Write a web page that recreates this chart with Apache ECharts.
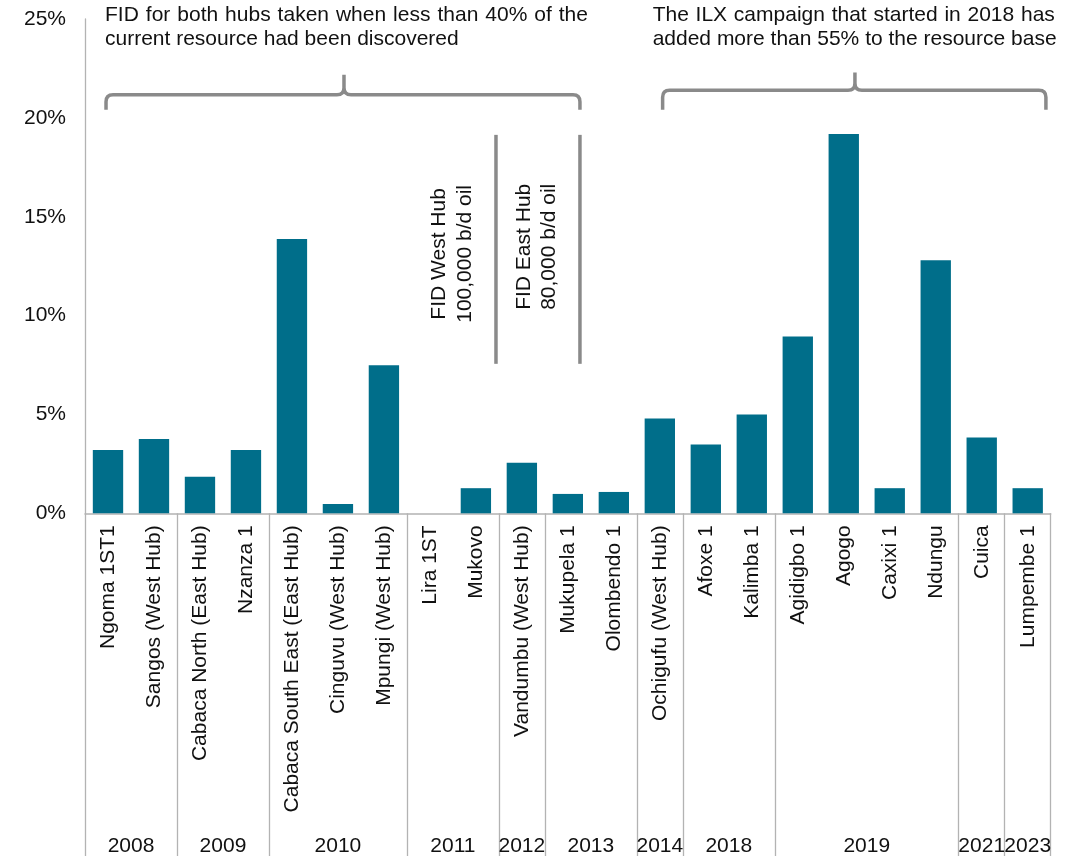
<!DOCTYPE html>
<html><head><meta charset="utf-8">
<script src="https://cdn.jsdelivr.net/npm/echarts@6/dist/echarts.min.js"></script>
<style>html,body{margin:0;padding:0;background:#fff}#c{width:1091px;height:856px}</style>
</head><body><div id="c"></div>
<script>
// ---- data ----
const categories = ['Ngoma 1ST1','Sangos (West Hub)','Cabaca North (East Hub)','Nzanza 1','Cabaca South East (East Hub)','Cinguvu (West Hub)','Mpungi (West Hub)','Lira 1ST','Mukovo','Vandumbu (West Hub)','Mukupela 1','Olombendo 1','Ochigufu (West Hub)','Afoxe 1','Kalimba 1','Agidigbo 1','Agogo','Caxixi 1','Ndungu','Cuica','Lumpembe 1'];
const values = [3.2, 3.76, 1.85, 3.2, 13.87, 0.47, 7.49, 0, 1.27, 2.56, 0.98, 1.08, 4.8, 3.48, 5.0, 8.94, 19.18, 1.27, 12.8, 3.83, 1.27];
const years = ['2008','2009','2010','2011','2012','2013','2014','2018','2019','2021','2023'];
const yearCounts = [2, 2, 3, 2, 1, 2, 1, 2, 4, 1, 1];
const yTickLabels = ['0%','5%','10%','15%','20%','25%'];

// ---- annotations (in axis units: x = category position 0..21, y = %) ----
const braces = [
  [0.457, 5.632, 10.763, 20.41, 21.17, 22.18],
  [12.561, 16.743, 20.896, 20.41, 21.40, 22.30]
];
const fidLines = [[8.937, 19.14, 7.56], [10.763, 19.14, 7.56]];
const fidTexts = ['FID West Hub\n100,000 b/d oil', 'FID East Hub\n80,000 b/d oil'];
const fidTextPos = [[7.98, 13.12], [9.828, 13.48]];
const notes = [
  ['FID for both hubs taken when less than 40% of the', 'current resource had been discovered'],
  ['The ILX campaign that started in 2018 has', 'added more than 55% to the resource base']
];
const notePos = [[0.435, 10.937, 25.17, 23.98], [12.344, 21.09, 25.17, 23.98]];

// ---- styles ----
const FONT = '"Liberation Sans", Arial, Helvetica, sans-serif';
const FS = 21;
const GRAY = '#B3B3B3';
const ANN = '#8A8A8A';
const BAR = '#006E8A';
const TXT = '#111';

// year axis helper (half-category slots)
const slotNames = [];
const labelAt = {};
const tickSlots = new Set([0]);
(function(){
  let pos = 0;
  years.forEach((y, i) => {
    labelAt[2 * pos + yearCounts[i]] = y;
    pos += yearCounts[i];
    tickSlots.add(2 * pos);
  });
  for (let j = 0; j <= 2 * categories.length; j++) slotNames.push('s' + j);
})();

const measureCtx = document.createElement('canvas').getContext('2d');
measureCtx.font = FS + 'px ' + FONT;

const chart = echarts.init(document.getElementById('c'), null, {renderer: 'canvas'});
chart.setOption({
  animation: false,
  backgroundColor: '#fff',
  grid: {left: 85, right: 40.3, top: 19, bottom: 342.7, containLabel: false, outerBoundsMode: 'none'},
  xAxis: [
    {
      type: 'category', data: categories, boundaryGap: true,
      axisLine: {show: true, lineStyle: {color: GRAY, width: 1.5}},
      axisTick: {show: false},
      axisLabel: {rotate: 90, interval: 0, margin: 12, fontSize: FS, fontFamily: FONT, color: TXT},
      splitLine: {show: false}
    },
    {
      type: 'category', data: slotNames, boundaryGap: false, position: 'bottom',
      axisLine: {show: false},
      axisTick: {show: true, interval: (i) => tickSlots.has(i), length: 343, lineStyle: {color: GRAY, width: 1.3}},
      axisLabel: {interval: 0, margin: 322, fontSize: FS, fontFamily: FONT, color: TXT,
        formatter: (v, i) => labelAt[i] || ''},
      splitLine: {show: false}
    },
    {type: 'value', min: 0, max: categories.length, show: false}
  ],
  yAxis: {
    type: 'value', min: 0, max: 25, interval: 5,
    axisLine: {show: true, lineStyle: {color: GRAY, width: 1.3}},
    axisTick: {show: false},
    splitLine: {show: false},
    axisLabel: {margin: 19, fontSize: FS, fontFamily: FONT, color: TXT,
      formatter: (v) => yTickLabels[Math.round(v / 5)]}
  },
  series: [
    {
      type: 'bar', data: values, xAxisIndex: 0, yAxisIndex: 0,
      barCategoryGap: '34%',
      itemStyle: {color: BAR}
    },
    {
      type: 'custom', xAxisIndex: 2, yAxisIndex: 0, clip: false, silent: true,
      data: braces,
      renderItem: (params, api) => {
        const r = 7;
        const a = api.coord([api.value(0), api.value(3)]);
        const c = api.coord([api.value(1), api.value(4)]);
        const b = api.coord([api.value(2), api.value(3)]);
        const t = api.coord([api.value(1), api.value(5)]);
        const ly = c[1], ax = a[0], bx = b[0], cx = c[0], ey = a[1], ty = t[1];
        const d = `M${ax},${ey} L${ax},${ly + r} Q${ax},${ly} ${ax + r},${ly} L${cx - r},${ly} Q${cx},${ly} ${cx},${ly - r} L${cx},${ty} ` +
                  `M${cx},${ly - r} Q${cx},${ly} ${cx + r},${ly} L${bx - r},${ly} Q${bx},${ly} ${bx},${ly + r} L${bx},${ey}`;
        return {type: 'path', shape: {pathData: d}, style: {stroke: ANN, lineWidth: 3.5, fill: 'none'}};
      }
    },
    {
      type: 'custom', xAxisIndex: 2, yAxisIndex: 0, clip: false, silent: true,
      data: fidLines,
      renderItem: (params, api) => {
        const p1 = api.coord([api.value(0), api.value(1)]);
        const p2 = api.coord([api.value(0), api.value(2)]);
        return {type: 'line', shape: {x1: p1[0], y1: p1[1], x2: p2[0], y2: p2[1]}, style: {stroke: ANN, lineWidth: 3.5}};
      }
    },
    {
      type: 'custom', xAxisIndex: 2, yAxisIndex: 0, clip: false, silent: true,
      data: fidTextPos,
      renderItem: (params, api) => {
        const p = api.coord([api.value(0), api.value(1)]);
        return {type: 'text', x: p[0], y: p[1], rotation: Math.PI / 2,
          style: {text: fidTexts[params.dataIndex], fontSize: FS, fontFamily: FONT, fill: TXT,
            align: 'center', verticalAlign: 'middle', lineHeight: 25.5}};
      }
    },
    {
      type: 'custom', xAxisIndex: 2, yAxisIndex: 0, clip: false, silent: true,
      data: notePos,
      renderItem: (params, api) => {
        const lines = notes[params.dataIndex];
        const l0 = api.coord([api.value(0), api.value(2)]);
        const r0 = api.coord([api.value(1), api.value(2)]);
        const l1 = api.coord([api.value(0), api.value(3)]);
        const children = [];
        const words = lines[0].split(' ');
        const widths = words.map(w => measureCtx.measureText(w).width);
        const total = widths.reduce((s, w) => s + w, 0);
        const gap = (r0[0] - l0[0] - total) / (words.length - 1);
        let x = l0[0];
        words.forEach((w, i) => {
          children.push({type: 'text', x: x, y: l0[1],
            style: {text: w, fontSize: FS, fontFamily: FONT, fill: TXT, align: 'left', verticalAlign: 'middle'}});
          x += widths[i] + gap;
        });
        children.push({type: 'text', x: l1[0], y: l1[1],
          style: {text: lines[1], fontSize: FS, fontFamily: FONT, fill: TXT, align: 'left', verticalAlign: 'middle'}});
        return {type: 'group', children: children};
      }
    }
  ]
});
</script>
</body></html>
